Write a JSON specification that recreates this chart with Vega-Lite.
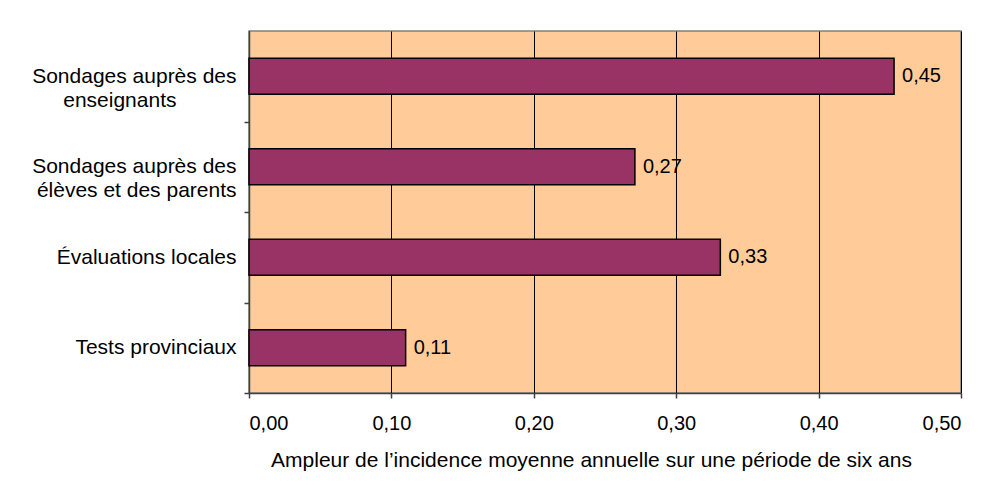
{
  "$schema": "https://vega.github.io/schema/vega-lite/v6.json",
  "autosize": {"type": "none"},
  "width": 712,
  "height": 362,
  "padding": {"left": 249, "top": 31, "right": 37, "bottom": 102},
  "background": "white",
  "config": {
    "font": "Liberation Sans",
    "view": {"fill": "#FFCC99", "stroke": "#808080", "strokeWidth": 1.5},
    "axis": {"labelFont": "Liberation Sans", "titleFont": "Liberation Sans", "labelColor": "black", "titleColor": "black", "labelFontSize": 20, "titleFontSize": 21, "titleFontWeight": "normal", "domainColor": "#404040", "tickColor": "#404040", "domainWidth": 1.5, "tickWidth": 1.5, "tickSize": 5}
  },
  "data": {
    "values": [
      {"cat": "Sondages auprès des|enseignants", "v": 0.453},
      {"cat": "Sondages auprès des|élèves et des parents", "v": 0.271},
      {"cat": "Évaluations locales", "v": 0.331},
      {"cat": "Tests provinciaux", "v": 0.11}
    ]
  },
  "transform": [
    {"calculate": "replace(format(datum.v, '.2f'), '.', ',')", "as": "lbl"}
  ],
  "encoding": {
    "y": {
      "field": "cat", "type": "nominal", "sort": null,
      "scale": {"paddingInner": 0.6, "paddingOuter": 0.3},
      "axis": {
        "title": null,
        "labelExpr": "indexof(datum.label, '|') >= 0 ? [split(datum.label, '|')[0], pad(split(datum.label, '|')[1], length(split(datum.label, '|')[1]) + max(0, round((length(split(datum.label, '|')[0]) - length(split(datum.label, '|')[1])) * 0.5)), '\u2800')] : datum.label",
        "labelFontSize": 21,
        "labelLineHeight": 24,
        "tickOffset": 45.25,
        "labelOffset": -45.25,
        "labelAlign": "right",
        "labelPadding": 8,
        "labelLimit": 300
      }
    },
    "x": {
      "field": "v", "type": "quantitative",
      "scale": {"domain": [0, 0.5], "nice": false},
      "axis": {
        "title": "Ampleur de l’incidence moyenne annuelle sur une période de six ans",
        "labelExpr": "replace(format(datum.value, '.2f'), '.', ',')",
        "values": [0, 0.1, 0.2, 0.3, 0.4, 0.5],
        "grid": true, "gridColor": "black", "gridWidth": 1, "gridOpacity": 1,
        "labelPadding": 15,
        "titlePadding": 16,
        "titleX": 342, "titleAlign": "center", "titleAnchor": "start"
      }
    }
  },
  "layer": [
    {"mark": {"type": "bar", "color": "#993366", "stroke": "black", "strokeWidth": 1.5}},
    {"mark": {"type": "text", "align": "left", "baseline": "middle", "dx": 8, "fontSize": 20, "color": "black", "font": "Liberation Sans"},
     "encoding": {"text": {"field": "lbl", "type": "nominal"}}}
  ]
}
